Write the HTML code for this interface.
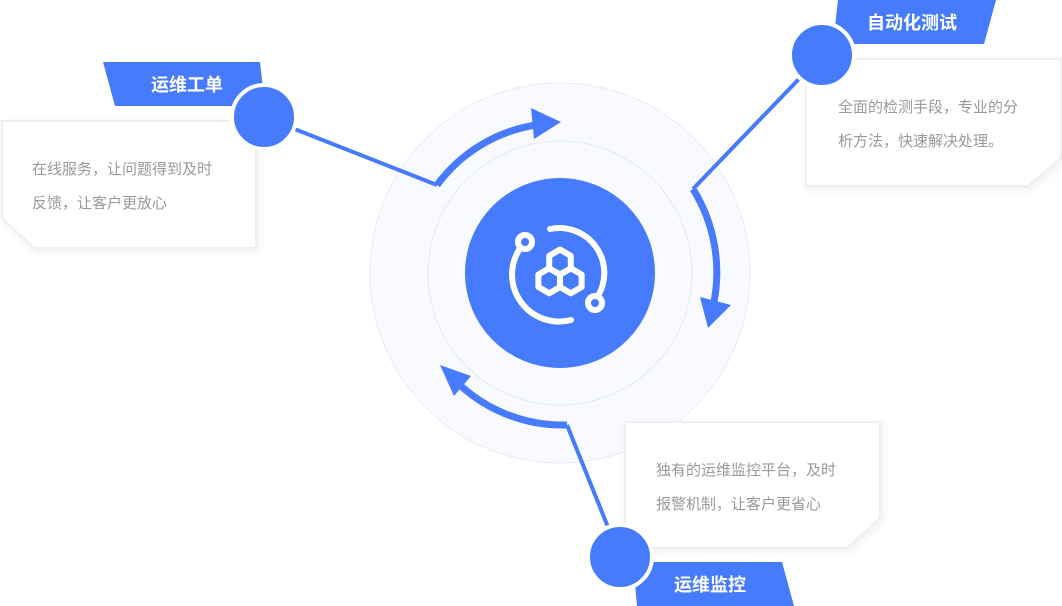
<!DOCTYPE html>
<html><head><meta charset="utf-8"><style>
html,body{margin:0;padding:0;background:#fff;}
svg{display:block;font-family:"Liberation Sans","Noto Sans CJK SC",sans-serif;}
</style></head><body>
<svg width="1062" height="606" viewBox="0 0 1062 606" xmlns="http://www.w3.org/2000/svg">
<defs>
<filter id="sh" x="-10%" y="-10%" width="130%" height="130%"><feDropShadow dx="2" dy="3" stdDeviation="4" flood-color="#000" flood-opacity="0.06"/></filter>
</defs>
<circle cx="560" cy="273" r="190" fill="#f8faff" stroke="#e6ecf8" stroke-width="1"/>
<circle cx="560" cy="273" r="132" fill="#f8faff" stroke="#e2e9f7" stroke-width="1"/>
<circle cx="560" cy="273" r="95" fill="#477bfd"/>
<g fill="none" stroke="#fff" stroke-width="6" stroke-linecap="round" stroke-linejoin="round">
<path d="M550 229 A45 45 0 0 1 598 296"/>
<path d="M571 320 A47 47 0 0 1 519 250"/>
<circle cx="525" cy="242" r="7"/>
<circle cx="595" cy="303" r="7"/>
<polygon points="560,249.5 570.8,255.8 570.8,268.3 560,274.5 549.2,268.3 549.2,255.8"/>
<polygon points="549.2,268.3 560,274.5 560,287 549.2,293.3 538.4,287 538.4,274.5"/>
<polygon points="570.8,268.3 581.6,274.5 581.6,287 570.8,293.3 560,287 560,274.5"/>
</g>
<g fill="none" stroke="#477bfd" stroke-width="7">
<path d="M437 185 A152 152 0 0 1 536 125"/>
<path d="M693 189 A158 158 0 0 1 714 302"/>
<path d="M567 425 A152 152 0 0 1 461 386"/>
</g>
<g fill="#477bfd">
<polygon points="531,108 561,122 534,139"/>
<polygon points="700,297 731,305 708,328"/>
<polygon points="440,365 471,376 454,396"/>
</g>
<g stroke="#477bfd" stroke-width="4">
<line x1="264" y1="117" x2="437" y2="185"/>
<line x1="822" y1="55" x2="693" y2="189"/>
<line x1="620" y1="557" x2="567" y2="425"/>
</g>
<polygon points="2,121 256,121 256,248 34,248 2,218" fill="#fff" stroke="#efefef" stroke-width="2" filter="url(#sh)"/>
<polygon points="806,59 1061,59 1061,158 1028,186 806,186" fill="#fff" stroke="#efefef" stroke-width="2" filter="url(#sh)"/>
<polygon points="625,422 880,422 880,518 847,548 625,548" fill="#fff" stroke="#efefef" stroke-width="2" filter="url(#sh)"/>
<g font-size="15" fill="#999">
<text x="32" y="174">在线服务，让问题得到及时</text>
<text x="32" y="208">反馈，让客户更放心</text>
<text x="838" y="112">全面的检测手段，专业的分</text>
<text x="838" y="146">析方法，快速解决处理。</text>
<text x="656" y="475">独有的运维监控平台，及时</text>
<text x="656" y="509">报警机制，让客户更省心</text>
</g>
<polygon points="103,62 260,62 265,106 115,106" fill="#477bfd"/>
<polygon points="838,0 996,0 984,44 833,44" fill="#477bfd"/>
<polygon points="633,562 782,562 794,606 637,606" fill="#477bfd"/>
<g font-size="18" font-weight="bold" fill="#fff" text-anchor="middle">
<text x="187" y="91">运维工单</text>
<text x="912" y="29">自动化测试</text>
<text x="710" y="591">运维监控</text>
</g>
<g fill="#477bfd" stroke="#fff" stroke-width="4">
<circle cx="264" cy="117" r="32"/>
<circle cx="822" cy="55" r="32"/>
<circle cx="620" cy="557" r="32"/>
</g>
</svg>
</body></html>
